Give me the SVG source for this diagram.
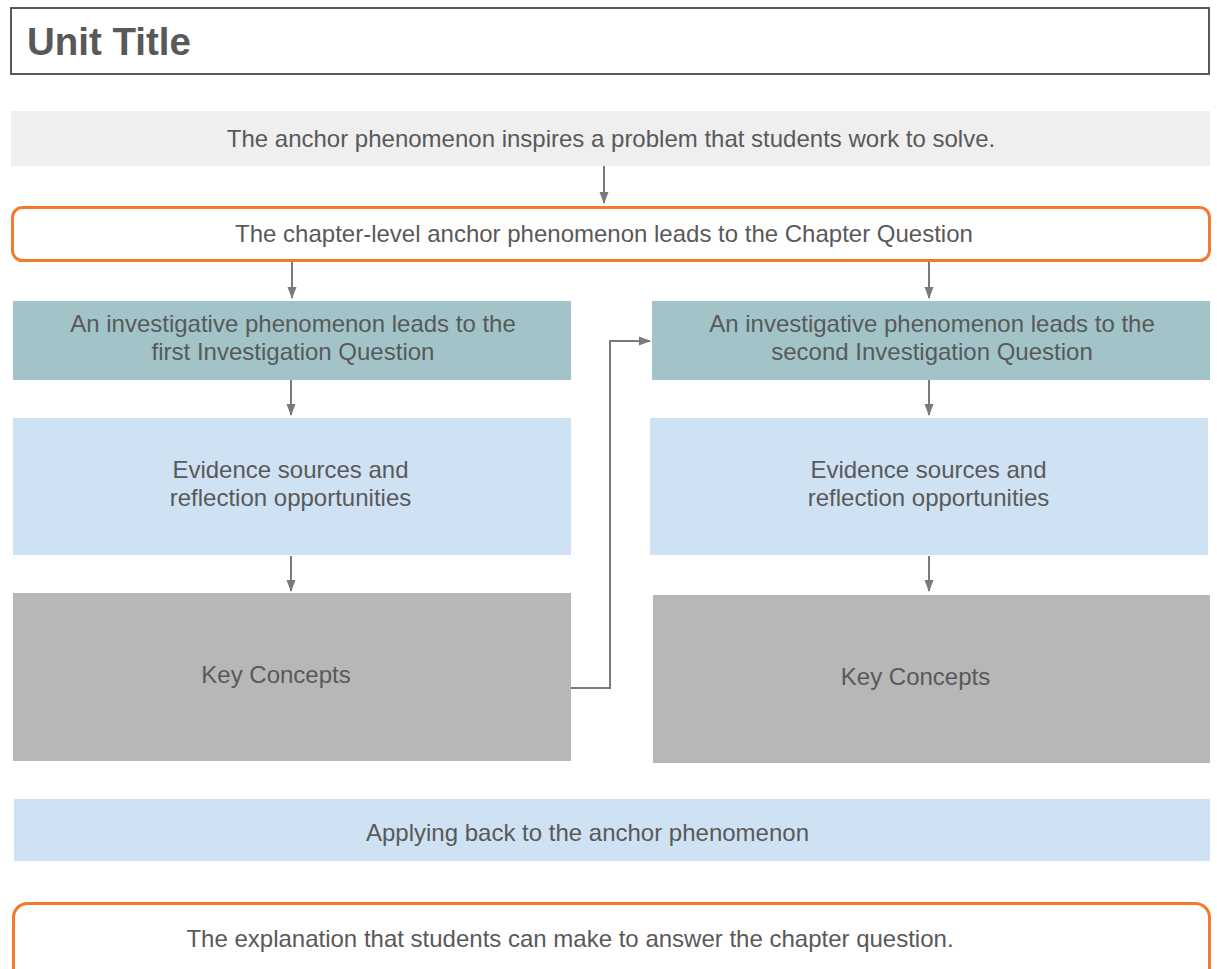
<svg xmlns="http://www.w3.org/2000/svg" width="1217" height="969" viewBox="0 0 1217 969">
<style>
text{font-family:"Liberation Sans",Arial,sans-serif;fill:#595959;font-size:24px;text-anchor:middle}
.title{font-size:38.5px;font-weight:bold;text-anchor:start}
.orange{fill:#fff;stroke:#f4792a;stroke-width:3}
.conn{fill:none;stroke:#7a7a7a;stroke-width:2}
</style>
<defs>
<marker id="ah" viewBox="0 0 12 10" refX="11" refY="5" markerWidth="6" markerHeight="5" orient="auto" markerUnits="strokeWidth">
<path d="M0,0.5L12,5L0,9.5z" fill="#7a7a7a"/>
</marker>
</defs>
<rect width="1217" height="969" fill="#fff"/>
<g id="title"><rect x="11" y="8" width="1198" height="66" fill="#fff" stroke="#595959" stroke-width="2"/><text class="title" x="27" y="55">Unit Title</text></g>
<g id="anchor"><rect x="11" y="111" width="1199" height="55" fill="#efefef"/><text x="611" y="147">The anchor phenomenon inspires a problem that students work to solve.</text></g>
<g id="chapter"><rect class="orange" x="12.5" y="207.5" width="1197" height="53" rx="10"/><text x="604" y="242">The chapter-level anchor phenomenon leads to the Chapter Question</text></g>
<g id="inv1"><rect x="13" y="301" width="558" height="79" fill="#a2c4c9"/><text x="293" y="332">An investigative phenomenon leads to the</text><text x="293" y="360">first Investigation Question</text></g>
<g id="inv2"><rect x="652" y="301" width="558" height="79" fill="#a2c4c9"/><text x="932" y="332">An investigative phenomenon leads to the</text><text x="932" y="360">second Investigation Question</text></g>
<g id="ev1"><rect x="13" y="418" width="558" height="137" fill="#cfe2f3"/><text x="290.5" y="478">Evidence sources and</text><text x="290.5" y="506">reflection opportunities</text></g>
<g id="ev2"><rect x="650" y="418" width="558" height="137" fill="#cfe2f3"/><text x="928.5" y="478">Evidence sources and</text><text x="928.5" y="506">reflection opportunities</text></g>
<g id="kc1"><rect x="13" y="593" width="558" height="168" fill="#b7b7b7"/><text x="276" y="683">Key Concepts</text></g>
<g id="kc2"><rect x="653" y="595" width="557" height="168" fill="#b7b7b7"/><text x="915.5" y="685">Key Concepts</text></g>
<g id="apply"><rect x="14" y="799" width="1196" height="62" fill="#cfe2f3"/><text x="587.5" y="841">Applying back to the anchor phenomenon</text></g>
<g id="explain"><rect class="orange" x="13.5" y="903.5" width="1196" height="80" rx="14"/><text x="570" y="947">The explanation that students can make to answer the chapter question.</text></g>
<g id="connectors">
<line class="conn" x1="604" y1="166" x2="604" y2="203" marker-end="url(#ah)"/>
<line class="conn" x1="292" y1="262" x2="292" y2="298" marker-end="url(#ah)"/>
<line class="conn" x1="929" y1="262" x2="929" y2="298" marker-end="url(#ah)"/>
<line class="conn" x1="291" y1="380" x2="291" y2="415" marker-end="url(#ah)"/>
<line class="conn" x1="929" y1="380" x2="929" y2="415" marker-end="url(#ah)"/>
<line class="conn" x1="291" y1="556" x2="291" y2="591" marker-end="url(#ah)"/>
<line class="conn" x1="929" y1="556" x2="929" y2="591" marker-end="url(#ah)"/>
<polyline class="conn" points="571,688 610,688 610,341 650,341" marker-end="url(#ah)"/>
</g>
</svg>
